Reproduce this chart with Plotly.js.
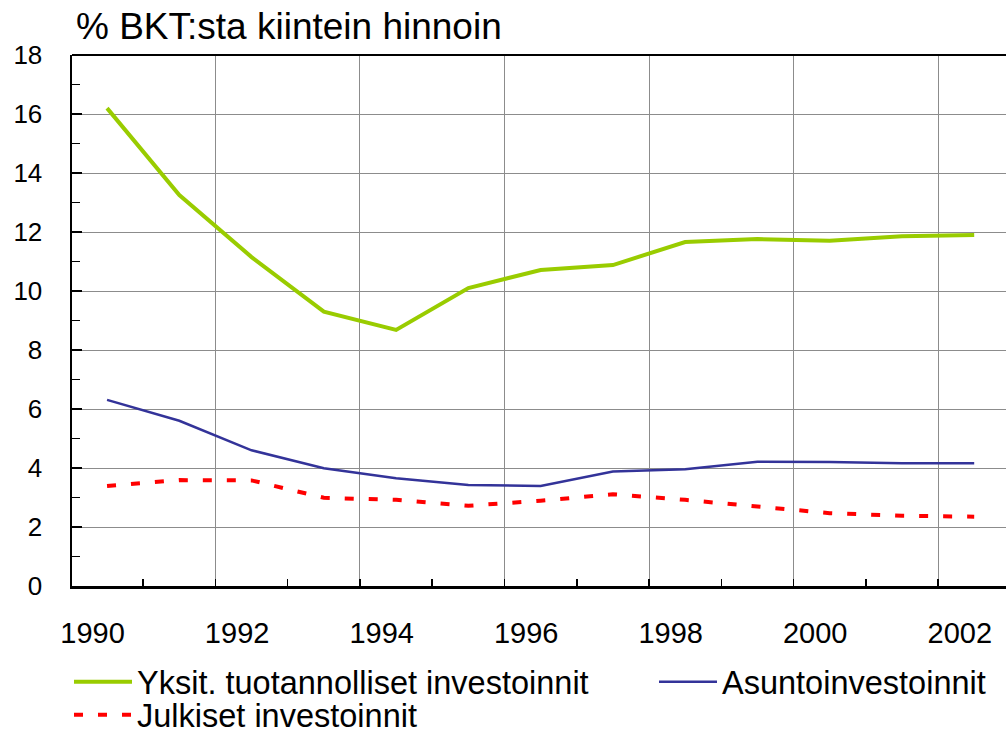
<!DOCTYPE html>
<html>
<head>
<meta charset="utf-8">
<script src="https://cdn.plot.ly/plotly-3.0.1.min.js"></script>
<style>html,body{margin:0;padding:0;background:#fff;}#chart{width:1006px;height:737px;}</style>
</head>
<body>
<div id="chart"></div>
<script>
var years = [1990,1991,1992,1993,1994,1995,1996,1997,1998,1999,2000,2001,2002];
var yksit = [16.2,13.25,11.15,9.3,8.68,10.1,10.71,10.88,11.66,11.76,11.7,11.86,11.9];
var asunto = [6.31,5.6,4.6,3.99,3.65,3.42,3.39,3.88,3.96,4.21,4.2,4.16,4.16];
var julkiset = [3.39,3.59,3.58,2.99,2.92,2.72,2.89,3.11,2.92,2.71,2.47,2.38,2.35];
var seriesNames = ["Yksit. tuotannolliset investoinnit","Asuntoinvestoinnit","Julkiset investoinnit"];
var tickLabels = ["1990","1992","1994","1996","1998","2000","2002"];
var titleText = "% BKT:sta kiintein hinnoin";

var FONT = "Liberation Sans, Arial, sans-serif";
var halfTicks = years.slice(0, -1).map(function(y){ return y + 0.5; });
var gridTicks = halfTicks.filter(function(v, i){ return i % 2 === 1; });
var labelPos = tickLabels.map(function(t){ return Number(t) - 0.2; });
var xr = [1989.515, 2002.44];

var PL = 72, PT = 55, PW = 934, PH = 531;

var traces = [
  {x: years, y: yksit, name: seriesNames[0], type: "scatter", mode: "lines", legend: "legend",
   line: {color: "#99CC00", width: 4}},
  {x: years, y: asunto, name: seriesNames[1], type: "scatter", mode: "lines", legend: "legend2",
   line: {color: "#333399", width: 2.5}},
  {x: years, y: julkiset, name: seriesNames[2], type: "scatter", mode: "lines", legend: "legend3",
   line: {color: "#FF0000", width: 4, dash: "9px,15px"}}
];

function legendAt(xpx, ypx, anchor) {
  return {xref: "paper", yref: "paper", x: (xpx - PL)/PW, xanchor: "left",
          y: (PT + PH - ypx)/PH, yanchor: anchor || "middle", itemwidth: 58,
          font: {family: FONT, size: 32.5, color: "#000"}, bgcolor: "rgba(0,0,0,0)",
          borderwidth: 0};
}

var layout = {
  width: 1006, height: 737,
  margin: {l: PL, r: 1006 - PL - PW, t: PT, b: 737 - PT - PH, autoexpand: false},
  paper_bgcolor: "#fff", plot_bgcolor: "#fff",
  font: {family: FONT, color: "#000"},
  showlegend: true,
  title: {text: titleText, font: {family: FONT, size: 37, color: "#000"},
          x: 76/1006, xanchor: "left", xref: "container",
          y: 1 - 39/737, yanchor: "bottom", yref: "container"},
  xaxis: {range: xr, tickmode: "array", tickvals: halfTicks, showticklabels: false,
          ticks: "inside", ticklen: 7, tickwidth: 1.5, tickcolor: "#000",
          showgrid: false, zeroline: false, showline: true, linecolor: "#000", linewidth: 2.5,
          fixedrange: true},
  xaxis2: {range: xr, overlaying: "x", anchor: "y", tickmode: "array", tickvals: gridTicks,
           showticklabels: false, ticks: "", showgrid: true, gridcolor: "#8c8c8c", gridwidth: 1,
           zeroline: false, showline: false},
  xaxis3: {range: xr, overlaying: "x", anchor: "y", tickmode: "array", tickvals: labelPos,
           ticktext: tickLabels, ticks: "", showgrid: false, zeroline: false, showline: false,
           ticklabelstandoff: 27, tickfont: {family: FONT, size: 29, color: "#000"}},
  yaxis: {range: [0, 18], tickmode: "linear", tick0: 0, dtick: 2,
          ticks: "inside", ticklen: 10, tickwidth: 1.5, tickcolor: "#000",
          minor: {tick0: 1, dtick: 2, ticks: "inside", ticklen: 8, tickwidth: 1.5, tickcolor: "#000", showgrid: false},
          showgrid: true, gridcolor: "#8c8c8c", gridwidth: 1, zeroline: false,
          showline: true, linecolor: "#000", linewidth: 2.5,
          ticklabelstandoff: 22, tickfont: {family: FONT, size: 26, color: "#000"}},
  legend: legendAt(69, 682),
  legend2: legendAt(654, 682),
  legend3: legendAt(69, 715),
  shapes: [{type: "line", xref: "paper", yref: "paper", x0: 0, x1: 1, y0: 1, y1: 1,
            line: {color: "#000", width: 2}, layer: "above"}]
};

traces.push({x: [years[0]], y: [null], xaxis: "x2", showlegend: false, hoverinfo: "skip", mode: "lines"});
traces.push({x: [years[0]], y: [null], xaxis: "x3", showlegend: false, hoverinfo: "skip", mode: "lines"});

Plotly.newPlot("chart", traces, layout, {displayModeBar: false, staticPlot: true});
</script>
</body>
</html>
